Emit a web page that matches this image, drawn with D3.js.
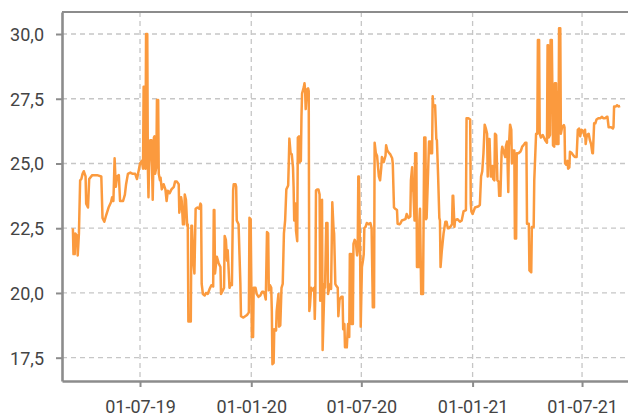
<!DOCTYPE html>
<html>
<head>
<meta charset="utf-8">
<script src="https://cdn.jsdelivr.net/npm/d3@7"></script>
<style>
  body { margin: 0; background: #fff; }
  svg text { font-family: Roboto, sans-serif; }
</style>
</head>
<body>
<script>
// one line per month, dates and values line up
var dates = [
  '2019-03-12','2019-03-13','2019-03-15','2019-03-16','2019-03-19','2019-03-20','2019-03-22','2019-03-24','2019-03-26','2019-03-28','2019-03-30',
  '2019-04-02','2019-04-03','2019-04-06','2019-04-08','2019-04-13','2019-04-21','2019-04-28','2019-04-30',
  '2019-05-03','2019-05-06','2019-05-10','2019-05-14','2019-05-16','2019-05-18','2019-05-20','2019-05-22','2019-05-24','2019-05-27','2019-05-29',
  '2019-06-03','2019-06-06','2019-06-08','2019-06-11','2019-06-15','2019-06-19','2019-06-23','2019-06-26','2019-06-29',
  '2019-07-01','2019-07-04','2019-07-06','2019-07-07','2019-07-09','2019-07-10','2019-07-11','2019-07-13','2019-07-14','2019-07-15','2019-07-16','2019-07-18','2019-07-20','2019-07-22','2019-07-24','2019-07-25','2019-07-26','2019-07-28','2019-07-29','2019-07-31',
  '2019-08-01','2019-08-03','2019-08-04','2019-08-06','2019-08-09','2019-08-12','2019-08-14','2019-08-16','2019-08-19','2019-08-22','2019-08-26','2019-08-28','2019-08-31',
  '2019-09-03','2019-09-04','2019-09-07','2019-09-08','2019-09-10','2019-09-12','2019-09-13','2019-09-15','2019-09-17','2019-09-18','2019-09-19','2019-09-23','2019-09-24','2019-09-25','2019-09-27','2019-09-29',
  '2019-10-01','2019-10-04','2019-10-07','2019-10-09','2019-10-10','2019-10-11','2019-10-13','2019-10-16','2019-10-18','2019-10-21','2019-10-24','2019-10-27','2019-10-30','2019-10-31',
  '2019-11-01','2019-11-02','2019-11-05','2019-11-08','2019-11-11','2019-11-12','2019-11-15','2019-11-17','2019-11-18','2019-11-20','2019-11-22','2019-11-23','2019-11-26','2019-11-28','2019-11-30',
  '2019-12-02','2019-12-03','2019-12-06','2019-12-07','2019-12-08','2019-12-11','2019-12-14','2019-12-15','2019-12-19','2019-12-22','2019-12-25','2019-12-28','2019-12-29','2019-12-31',
  '2020-01-02','2020-01-04','2020-01-05','2020-01-08','2020-01-10','2020-01-13','2020-01-16','2020-01-19','2020-01-21','2020-01-23','2020-01-25','2020-01-27','2020-01-29','2020-01-30',
  '2020-02-01','2020-02-03','2020-02-04','2020-02-05','2020-02-07','2020-02-08','2020-02-11','2020-02-12','2020-02-15','2020-02-16','2020-02-18','2020-02-20','2020-02-22','2020-02-24','2020-02-26','2020-02-28',
  '2020-03-02','2020-03-03','2020-03-04','2020-03-06','2020-03-08','2020-03-10','2020-03-11','2020-03-12','2020-03-14','2020-03-15','2020-03-17','2020-03-18','2020-03-20','2020-03-21','2020-03-23','2020-03-24','2020-03-25','2020-03-28','2020-03-29','2020-03-30','2020-03-31',
  '2020-04-02','2020-04-04','2020-04-05','2020-04-06','2020-04-07','2020-04-09','2020-04-11','2020-04-14','2020-04-15','2020-04-16','2020-04-17','2020-04-19','2020-04-21','2020-04-23','2020-04-24','2020-04-25','2020-04-27','2020-04-28',
  '2020-05-01','2020-05-02','2020-05-04','2020-05-06','2020-05-07','2020-05-09','2020-05-11','2020-05-12','2020-05-14','2020-05-16','2020-05-17','2020-05-19','2020-05-20','2020-05-23','2020-05-24','2020-05-26','2020-05-29','2020-05-31',
  '2020-06-01','2020-06-03','2020-06-04','2020-06-07','2020-06-09','2020-06-11','2020-06-12','2020-06-14','2020-06-15','2020-06-17','2020-06-18','2020-06-20','2020-06-22','2020-06-24','2020-06-25','2020-06-26','2020-06-27','2020-06-29','2020-06-30',
  '2020-07-02','2020-07-04','2020-07-05','2020-07-06','2020-07-08','2020-07-10','2020-07-13','2020-07-16','2020-07-17','2020-07-18','2020-07-20','2020-07-22','2020-07-23','2020-07-25','2020-07-27','2020-07-30',
  '2020-08-01','2020-08-03','2020-08-04','2020-08-07','2020-08-10','2020-08-11','2020-08-13','2020-08-16','2020-08-18','2020-08-21','2020-08-22','2020-08-24','2020-08-26','2020-08-29','2020-08-30',
  '2020-09-02','2020-09-04','2020-09-06','2020-09-12','2020-09-14','2020-09-17','2020-09-20','2020-09-21','2020-09-23','2020-09-24','2020-09-25','2020-09-27','2020-09-28','2020-09-30',
  '2020-10-01','2020-10-04','2020-10-05','2020-10-06','2020-10-08','2020-10-11','2020-10-12','2020-10-13','2020-10-15','2020-10-16','2020-10-17','2020-10-19','2020-10-21','2020-10-23','2020-10-24','2020-10-26','2020-10-27','2020-10-28','2020-10-31',
  '2020-11-02','2020-11-03','2020-11-05','2020-11-07','2020-11-08','2020-11-09','2020-11-11','2020-11-14','2020-11-17','2020-11-19','2020-11-21','2020-11-23','2020-11-25','2020-11-28','2020-11-29','2020-11-30',
  '2020-12-02','2020-12-03','2020-12-07','2020-12-11','2020-12-14','2020-12-17','2020-12-21','2020-12-22','2020-12-25','2020-12-28','2020-12-29','2020-12-30',
  '2021-01-01','2021-01-05','2021-01-11','2021-01-13','2021-01-15','2021-01-17','2021-01-19','2021-01-21','2021-01-23','2021-01-25','2021-01-26','2021-01-27','2021-01-29','2021-01-31',
  '2021-02-02','2021-02-03','2021-02-04','2021-02-06','2021-02-07','2021-02-09','2021-02-11','2021-02-13','2021-02-14','2021-02-16','2021-02-18','2021-02-19','2021-02-22','2021-02-24','2021-02-25','2021-02-27',
  '2021-03-01','2021-03-02','2021-03-04','2021-03-06','2021-03-07','2021-03-09','2021-03-11','2021-03-12','2021-03-14','2021-03-15','2021-03-18','2021-03-21','2021-03-22','2021-03-24','2021-03-26','2021-03-29','2021-03-31',
  '2021-04-01','2021-04-04','2021-04-05','2021-04-08','2021-04-09','2021-04-12','2021-04-13','2021-04-16','2021-04-18','2021-04-19','2021-04-21','2021-04-22','2021-04-24','2021-04-27','2021-04-29',
  '2021-05-01','2021-05-04','2021-05-05','2021-05-06','2021-05-07','2021-05-09','2021-05-10','2021-05-12','2021-05-14','2021-05-16','2021-05-17','2021-05-19','2021-05-20','2021-05-21','2021-05-22','2021-05-23','2021-05-24','2021-05-26','2021-05-27','2021-05-29',
  '2021-06-01','2021-06-02','2021-06-03','2021-06-05','2021-06-07','2021-06-08','2021-06-10','2021-06-11','2021-06-14','2021-06-17','2021-06-19','2021-06-22','2021-06-24','2021-06-26','2021-06-28','2021-06-30',
  '2021-07-03','2021-07-05','2021-07-06','2021-07-07','2021-07-09','2021-07-12','2021-07-14','2021-07-16','2021-07-18','2021-07-19','2021-07-21','2021-07-23','2021-07-25','2021-07-28','2021-07-31',
  '2021-08-03','2021-08-05','2021-08-08','2021-08-11','2021-08-12','2021-08-14','2021-08-18','2021-08-21','2021-08-22','2021-08-23','2021-08-26','2021-08-28','2021-08-30',
  '2021-09-02'
];

var values = [
  22.5,21.5,21.5,22.3,22.2,21.45,22.3,24.35,24.4,24.6,24.7,
  24.5,23.45,23.3,24.4,24.55,24.55,24.5,22.9,
  22.75,23.0,23.3,23.5,23.7,23.55,25.2,24.1,24.5,24.55,23.55,
  23.55,23.8,24.2,24.6,24.65,24.6,24.6,24.4,24.75,
  25.0,25.1,24.8,27.96,27.96,24.8,30.0,30.0,24.85,23.7,24.85,25.9,25.9,23.6,26.0,26.05,24.6,24.85,27.45,27.45,
  24.6,24.35,24.45,24.0,24.2,24.0,23.55,23.95,23.85,24.0,24.1,24.3,24.3,
  24.2,23.1,23.7,23.55,22.65,22.65,23.8,23.6,22.6,22.65,18.9,18.9,22.6,22.6,21.25,20.75,
  23.25,23.3,23.25,23.45,23.4,20.35,19.96,19.9,20.0,19.96,20.15,20.3,20.25,23.2,
  23.2,20.75,21.4,21.15,21.0,19.96,20.1,20.2,22.2,22.05,21.25,21.65,20.2,20.35,20.3,
  23.96,24.2,24.2,24.1,22.8,22.65,20.35,19.1,19.05,19.1,19.15,19.25,22.9,22.85,
  18.3,18.3,20.2,20.2,19.96,19.85,19.9,20.05,20.05,19.96,19.75,22.35,22.3,20.1,
  20.3,20.2,19.3,17.25,17.3,18.6,18.55,19.3,19.96,18.7,18.75,20.2,20.35,22.3,22.8,24.0,
  24.15,25.0,25.96,25.4,25.35,24.85,24.1,22.8,23.45,22.4,22.0,26.0,26.05,25.05,25.1,26.8,27.7,27.96,28.1,27.85,27.1,
  27.85,27.9,27.8,19.3,19.5,20.2,20.1,20.2,19.0,20.0,23.96,24.0,24.0,23.8,19.7,23.55,23.6,17.8,
  20.35,20.2,22.7,22.7,19.96,20.2,20.35,20.15,23.5,22.5,22.3,20.35,20.3,20.2,19.1,19.75,19.85,19.85,
  18.6,18.8,17.9,17.9,18.8,18.3,21.5,21.5,18.8,18.8,21.9,22.05,21.95,21.45,21.65,24.5,24.5,21.5,18.7,
  21.0,21.3,21.5,22.5,22.55,22.7,22.65,22.7,22.6,22.5,19.45,19.45,25.8,25.4,25.3,24.5,
  24.35,24.85,25.25,25.05,25.3,25.7,25.5,25.4,25.35,25.2,25.0,23.3,23.25,23.2,22.67,
  22.65,22.7,22.8,22.85,23.05,22.9,22.95,24.35,24.85,23.96,24.0,22.8,25.4,25.4,
  21.0,21.0,22.8,23.25,19.96,19.96,22.85,26.0,26.0,22.85,22.9,24.35,25.85,25.85,25.4,25.4,27.6,27.2,27.25,
  25.95,25.9,24.5,22.9,22.8,21.0,21.6,22.3,22.75,22.75,22.5,22.5,22.55,22.65,23.75,23.75,
  22.55,22.8,22.85,22.75,22.8,23.15,23.2,26.75,26.75,26.7,23.45,23.15,
  23.05,23.3,23.35,23.4,24.5,24.7,25.4,26.5,26.35,26.15,24.5,25.95,25.95,24.5,
  24.5,24.9,24.4,24.35,26.15,26.1,24.35,24.3,23.75,23.75,25.45,25.65,25.4,25.25,25.65,25.85,
  23.9,25.65,26.5,26.3,25.0,25.5,25.5,22.1,22.1,25.4,25.4,25.45,25.5,25.65,25.7,25.8,25.8,
  22.67,22.67,20.87,20.8,22.55,22.55,24.35,26.15,26.15,29.77,29.77,26.15,26.0,26.1,26.0,
  25.9,25.8,29.57,29.57,26.0,26.1,29.77,29.77,25.7,25.65,28.1,28.1,25.75,27.77,27.3,25.75,30.22,30.22,26.15,26.4,
  26.48,26.4,25.0,24.95,25.1,24.8,24.85,25.45,25.4,25.3,25.25,25.25,26.3,26.35,26.05,26.3,
  26.25,26.05,26.3,25.75,26.1,26.15,25.9,25.75,25.4,25.4,26.55,26.55,26.7,26.75,26.75,
  26.8,26.75,26.75,26.8,26.8,26.4,26.4,26.35,26.4,27.2,27.2,27.25,27.2,
  27.22
];

var xTicks = ['2019-07-01', '2020-01-01', '2020-07-01', '2021-01-01', '2021-07-01'];
var yTicks = [17.5, 20, 22.5, 25, 27.5, 30];
var xDomain = ['2019-02-22', '2021-09-15'];
var yDomain = [16.6, 30.85];

(function() {
  var w = 628;
  var h = 416;
  var left = 62, top = 12, right = 628, bottom = 381;
  var axisColor = '#8c8c8c';

  var parse = d3.timeParse('%Y-%m-%d');
  if (dates.length !== values.length) console.error('length mismatch', dates.length, values.length);
  var data = dates.map((d, i) => ({ date: parse(d), value: values[i] }));

  var locale = d3.formatLocale({ decimal: ',', thousands: '.', grouping: [3], currency: ['', '€'] });
  var yFormat = locale.format('.1f');
  var xFormat = d3.timeFormat('%d-%m-%y');

  var xScale = d3.scaleTime().domain(xDomain.map(parse)).range([left, right]);
  var yScale = d3.scaleLinear().domain(yDomain).range([bottom, top]);

  var svg = d3.select('body').append('svg').attr('width', w).attr('height', h);

  // grid
  svg.append('g')
    .selectAll('line')
    .data(yTicks)
    .enter()
    .append('line')
    .attr('x1', left)
    .attr('x2', right)
    .attr('y1', d => yScale(d))
    .attr('y2', d => yScale(d))
    .attr('stroke', '#c6c6c6')
    .attr('stroke-width', 1.3)
    .attr('stroke-dasharray', '5,4');

  svg.append('g')
    .selectAll('line')
    .data(xTicks.map(parse))
    .enter()
    .append('line')
    .attr('x1', d => xScale(d))
    .attr('x2', d => xScale(d))
    .attr('y1', top)
    .attr('y2', bottom)
    .attr('stroke', '#c6c6c6')
    .attr('stroke-width', 1.3)
    .attr('stroke-dasharray', '5,4');

  // series
  var line = d3.line().x(d => xScale(d.date)).y(d => yScale(d.value));
  svg.append('path')
    .datum(data)
    .attr('d', line)
    .attr('fill', 'none')
    .attr('stroke', '#fb9a3e')
    .attr('stroke-width', 2.5)
    .attr('stroke-linejoin', 'round');

  // top frame
  svg.append('line')
    .attr('x1', left).attr('x2', right)
    .attr('y1', top).attr('y2', top)
    .attr('stroke', axisColor)
    .attr('stroke-width', 2);

  var xAxis = d3.axisBottom(xScale)
    .tickValues(xTicks.map(parse))
    .tickFormat(xFormat)
    .tickSize(6)
    .tickSizeOuter(0)
    .tickPadding(13);

  var yAxis = d3.axisLeft(yScale)
    .tickValues(yTicks)
    .tickFormat(yFormat)
    .tickSize(6)
    .tickSizeOuter(0)
    .tickPadding(12);

  var gx = svg.append('g').attr('transform', `translate(0,${bottom})`).call(xAxis);
  var gy = svg.append('g').attr('transform', `translate(${left},0)`).call(yAxis);

  [gx, gy].forEach(g => {
    g.select('.domain').attr('stroke', axisColor).attr('stroke-width', 2.6);
    g.selectAll('.tick line').attr('stroke', axisColor).attr('stroke-width', 2);
    g.selectAll('.tick text')
      .attr('fill', '#444')
      .attr('font-size', '18px')
      .attr('font-family', 'Roboto, sans-serif');
  });
  gy.selectAll('.tick text').attr('dy', '0.36em');
})();
</script>
</body>
</html>
